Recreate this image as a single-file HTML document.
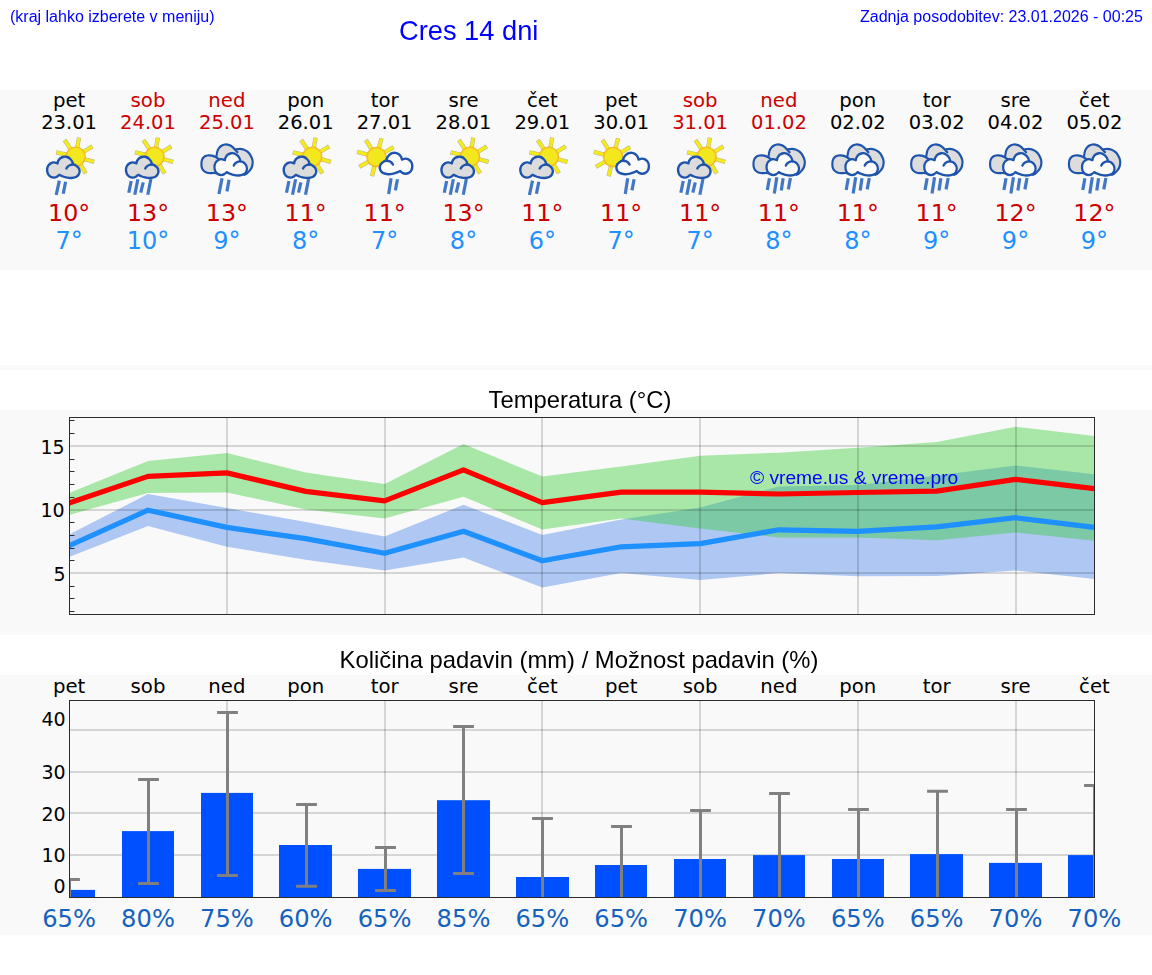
<!DOCTYPE html>
<html lang="sl"><head><meta charset="utf-8"><title>Cres 14 dni</title>
<style>
html,body{margin:0;padding:0;background:#fff}
body{width:1152px;height:975px;position:relative;overflow:hidden;font-family:"Liberation Sans",sans-serif}
.t{position:absolute;white-space:nowrap;line-height:1;margin:0;will-change:transform}
</style></head><body>
<svg width="1152" height="975" viewBox="0 0 1152 975" style="position:absolute;left:0;top:0"><rect x="0" y="90" width="1152" height="180" fill="#f9f9f9"/>
<rect x="0" y="365" width="1152" height="5" fill="#f9f9f9"/>
<rect x="0" y="410" width="1152" height="225" fill="#f9f9f9"/>
<rect x="0" y="675" width="1152" height="260" fill="#f9f9f9"/>
<g font-family="'DejaVu Sans','Liberation Sans',sans-serif" text-anchor="middle" font-size="19.7">
<text x="69.1" y="106.7" fill="#000000">pet</text>
<text x="148.0" y="106.7" fill="#cc0000">sob</text>
<text x="226.9" y="106.7" fill="#cc0000">ned</text>
<text x="305.7" y="106.7" fill="#000000">pon</text>
<text x="384.6" y="106.7" fill="#000000">tor</text>
<text x="463.5" y="106.7" fill="#000000">sre</text>
<text x="542.3" y="106.7" fill="#000000">čet</text>
<text x="621.2" y="106.7" fill="#000000">pet</text>
<text x="700.1" y="106.7" fill="#cc0000">sob</text>
<text x="778.9" y="106.7" fill="#cc0000">ned</text>
<text x="857.8" y="106.7" fill="#000000">pon</text>
<text x="936.7" y="106.7" fill="#000000">tor</text>
<text x="1015.5" y="106.7" fill="#000000">sre</text>
<text x="1094.4" y="106.7" fill="#000000">čet</text>
</g>
<g font-family="'DejaVu Sans','Liberation Sans',sans-serif" text-anchor="middle" font-size="19.5">
<text x="69.1" y="128.9" fill="#000000">23.01</text>
<text x="148.0" y="128.9" fill="#cc0000">24.01</text>
<text x="226.9" y="128.9" fill="#cc0000">25.01</text>
<text x="305.7" y="128.9" fill="#000000">26.01</text>
<text x="384.6" y="128.9" fill="#000000">27.01</text>
<text x="463.5" y="128.9" fill="#000000">28.01</text>
<text x="542.3" y="128.9" fill="#000000">29.01</text>
<text x="621.2" y="128.9" fill="#000000">30.01</text>
<text x="700.1" y="128.9" fill="#cc0000">31.01</text>
<text x="778.9" y="128.9" fill="#cc0000">01.02</text>
<text x="857.8" y="128.9" fill="#000000">02.02</text>
<text x="936.7" y="128.9" fill="#000000">03.02</text>
<text x="1015.5" y="128.9" fill="#000000">04.02</text>
<text x="1094.4" y="128.9" fill="#000000">05.02</text>
</g>
<g font-family="'DejaVu Sans','Liberation Sans',sans-serif" text-anchor="middle" font-size="23.8" fill="#cc0000">
<text x="69.1" y="221">10°</text>
<text x="148.0" y="221">13°</text>
<text x="226.9" y="221">13°</text>
<text x="305.7" y="221">11°</text>
<text x="384.6" y="221">11°</text>
<text x="463.5" y="221">13°</text>
<text x="542.3" y="221">11°</text>
<text x="621.2" y="221">11°</text>
<text x="700.1" y="221">11°</text>
<text x="778.9" y="221">11°</text>
<text x="857.8" y="221">11°</text>
<text x="936.7" y="221">11°</text>
<text x="1015.5" y="221">12°</text>
<text x="1094.4" y="221">12°</text>
</g>
<g font-family="'DejaVu Sans','Liberation Sans',sans-serif" text-anchor="middle" font-size="24" fill="#1e90ff">
<text x="69.1" y="248.9">7°</text>
<text x="148.0" y="248.9">10°</text>
<text x="226.9" y="248.9">9°</text>
<text x="305.7" y="248.9">8°</text>
<text x="384.6" y="248.9">7°</text>
<text x="463.5" y="248.9">8°</text>
<text x="542.3" y="248.9">6°</text>
<text x="621.2" y="248.9">7°</text>
<text x="700.1" y="248.9">7°</text>
<text x="778.9" y="248.9">8°</text>
<text x="857.8" y="248.9">8°</text>
<text x="936.7" y="248.9">9°</text>
<text x="1015.5" y="248.9">9°</text>
<text x="1094.4" y="248.9">9°</text>
</g>
<defs><radialGradient id="sg" cx="50%" cy="50%" r="50%"><stop offset="0" stop-color="#f3e81e"/><stop offset="0.77" stop-color="#f3e71e"/><stop offset="0.9" stop-color="#f5c220"/><stop offset="1" stop-color="#f6a52a"/></radialGradient></defs>
<g stroke="#8f8a45" stroke-opacity="0.6" stroke-width="4.3"><line x1="83.81" y1="158.97" x2="94.27" y2="161.87"/><line x1="80.06" y1="163.95" x2="85.78" y2="173.28"/><line x1="67.32" y1="154.85" x2="56.15" y2="152.35"/><line x1="70.93" y1="149.61" x2="64.55" y2="139.98"/><line x1="77.10" y1="148.33" x2="79.00" y2="137.55"/><line x1="82.87" y1="152.26" x2="92.46" y2="146.38"/></g><g stroke="#f5ea1c" stroke-width="3.3"><line x1="83.81" y1="158.97" x2="93.83" y2="161.75"/><line x1="80.06" y1="163.95" x2="85.55" y2="172.90"/><line x1="67.32" y1="154.85" x2="56.59" y2="152.45"/><line x1="70.93" y1="149.61" x2="64.80" y2="140.36"/><line x1="77.10" y1="148.33" x2="78.92" y2="137.99"/><line x1="82.87" y1="152.26" x2="92.08" y2="146.62"/></g><circle cx="75.62" cy="156.70" r="10.25" fill="url(#sg)"/><g transform="translate(39.32 134.00)" stroke="#1e54ac" stroke-width="2.4" stroke-linejoin="round" stroke-linecap="round"><path d="M33.7 30.4C34.12 30.53 35.28 30.63 36.20 31.20C37.12 31.77 38.52 32.78 39.20 33.80C39.88 34.82 40.28 36.15 40.30 37.30C40.32 38.45 39.90 39.75 39.30 40.70C38.70 41.65 37.92 42.45 36.70 43.00C35.48 43.55 33.67 43.93 32.00 44.00C30.33 44.07 28.25 43.72 26.70 43.40C25.15 43.08 23.82 42.53 22.70 42.10C21.58 41.67 20.45 41.02 20.00 40.80C19.62 41.12 18.58 42.23 17.70 42.70C16.82 43.17 15.77 43.60 14.70 43.60C13.63 43.60 12.30 43.30 11.30 42.70C10.30 42.10 9.28 41.12 8.70 40.00C8.12 38.88 7.80 37.33 7.80 36.00C7.80 34.67 8.12 33.10 8.70 32.00C9.28 30.90 10.30 30.00 11.30 29.40C12.30 28.80 13.55 28.42 14.70 28.40C15.85 28.38 17.62 29.15 18.20 29.30C18.33 28.85 18.48 27.48 19.00 26.60C19.52 25.72 20.35 24.65 21.30 24.00C22.25 23.35 23.58 22.87 24.70 22.70C25.82 22.53 26.95 22.62 28.00 23.00C29.05 23.38 30.17 24.22 31.00 25.00C31.83 25.78 32.55 26.80 33.00 27.70C33.45 28.60 33.58 29.95 33.70 30.40Z" fill="#dcdcdc"/><path d="M27.1 34.4C27.37 34.05 28.05 32.87 28.70 32.30C29.35 31.73 30.17 31.32 31.00 31.00C31.83 30.68 33.25 30.50 33.70 30.40" fill="none"/></g><g stroke="#4277c6" stroke-width="3.2" stroke-linecap="butt"><line x1="59.32" y1="180.70" x2="56.20" y2="195.00"/><line x1="65.62" y1="181.70" x2="63.20" y2="193.70"/></g>
<g stroke="#8f8a45" stroke-opacity="0.6" stroke-width="4.3"><line x1="162.68" y1="158.97" x2="173.13" y2="161.87"/><line x1="158.93" y1="163.95" x2="164.65" y2="173.28"/><line x1="146.19" y1="154.85" x2="135.02" y2="152.35"/><line x1="149.80" y1="149.61" x2="143.42" y2="139.98"/><line x1="155.96" y1="148.33" x2="157.87" y2="137.55"/><line x1="161.74" y1="152.26" x2="171.33" y2="146.38"/></g><g stroke="#f5ea1c" stroke-width="3.3"><line x1="162.68" y1="158.97" x2="172.70" y2="161.75"/><line x1="158.93" y1="163.95" x2="164.42" y2="172.90"/><line x1="146.19" y1="154.85" x2="135.46" y2="152.45"/><line x1="149.80" y1="149.61" x2="143.67" y2="140.36"/><line x1="155.96" y1="148.33" x2="157.79" y2="137.99"/><line x1="161.74" y1="152.26" x2="170.94" y2="146.62"/></g><circle cx="154.49" cy="156.70" r="10.25" fill="url(#sg)"/><g transform="translate(118.19 134.00)" stroke="#1e54ac" stroke-width="2.4" stroke-linejoin="round" stroke-linecap="round"><path d="M33.7 30.4C34.12 30.53 35.28 30.63 36.20 31.20C37.12 31.77 38.52 32.78 39.20 33.80C39.88 34.82 40.28 36.15 40.30 37.30C40.32 38.45 39.90 39.75 39.30 40.70C38.70 41.65 37.92 42.45 36.70 43.00C35.48 43.55 33.67 43.93 32.00 44.00C30.33 44.07 28.25 43.72 26.70 43.40C25.15 43.08 23.82 42.53 22.70 42.10C21.58 41.67 20.45 41.02 20.00 40.80C19.62 41.12 18.58 42.23 17.70 42.70C16.82 43.17 15.77 43.60 14.70 43.60C13.63 43.60 12.30 43.30 11.30 42.70C10.30 42.10 9.28 41.12 8.70 40.00C8.12 38.88 7.80 37.33 7.80 36.00C7.80 34.67 8.12 33.10 8.70 32.00C9.28 30.90 10.30 30.00 11.30 29.40C12.30 28.80 13.55 28.42 14.70 28.40C15.85 28.38 17.62 29.15 18.20 29.30C18.33 28.85 18.48 27.48 19.00 26.60C19.52 25.72 20.35 24.65 21.30 24.00C22.25 23.35 23.58 22.87 24.70 22.70C25.82 22.53 26.95 22.62 28.00 23.00C29.05 23.38 30.17 24.22 31.00 25.00C31.83 25.78 32.55 26.80 33.00 27.70C33.45 28.60 33.58 29.95 33.70 30.40Z" fill="#dcdcdc"/><path d="M27.1 34.4C27.37 34.05 28.05 32.87 28.70 32.30C29.35 31.73 30.17 31.32 31.00 31.00C31.83 30.68 33.25 30.50 33.70 30.40" fill="none"/></g><g stroke="#4277c6" stroke-width="3.2" stroke-linecap="butt"><line x1="131.19" y1="181.00" x2="128.77" y2="192.70"/><line x1="137.89" y1="179.30" x2="134.77" y2="194.70"/><line x1="143.19" y1="182.30" x2="140.77" y2="192.70"/><line x1="150.89" y1="179.00" x2="147.77" y2="194.70"/></g>
<g transform="translate(197.06 134.00)"><path d="M19.33 39.33C18.89 39.28 17.67 39.03 16.67 39.00C15.67 38.97 14.44 39.17 13.33 39.13C12.22 39.10 11.02 39.12 10.00 38.80C8.98 38.48 8.03 37.94 7.20 37.20C6.37 36.46 5.48 35.53 5.00 34.33C4.52 33.13 4.33 31.44 4.33 30.00C4.33 28.56 4.50 26.89 5.00 25.67C5.50 24.44 6.44 23.37 7.33 22.67C8.22 21.97 9.44 21.69 10.33 21.47C11.22 21.24 11.72 21.27 12.67 21.33C13.61 21.40 14.89 21.51 16.00 21.87C17.11 22.22 18.78 23.20 19.33 23.47C19.41 22.83 19.52 21.00 19.80 19.67C20.08 18.33 20.30 16.74 21.00 15.47C21.70 14.19 22.83 12.83 24.00 12.00C25.17 11.17 26.61 10.61 28.00 10.47C29.39 10.32 31.11 10.73 32.33 11.13C33.56 11.53 34.41 12.14 35.33 12.87C36.26 13.59 37.44 15.03 37.87 15.47C38.67 15.36 41.23 14.80 42.67 14.80C44.10 14.80 45.13 14.96 46.47 15.47C47.80 15.98 49.46 16.80 50.67 17.87C51.88 18.93 52.92 20.40 53.73 21.87C54.54 23.33 55.29 25.00 55.53 26.67C55.78 28.33 55.62 30.28 55.20 31.87C54.78 33.46 53.89 34.96 53.00 36.20C52.11 37.44 50.81 38.57 49.87 39.33C48.92 40.10 47.76 40.56 47.33 40.80L40 36L24 36Z" fill="#dcdcdc"/><path d="M19.33 39.33C18.89 39.28 17.67 39.03 16.67 39.00C15.67 38.97 14.44 39.17 13.33 39.13C12.22 39.10 11.02 39.12 10.00 38.80C8.98 38.48 8.03 37.94 7.20 37.20C6.37 36.46 5.48 35.53 5.00 34.33C4.52 33.13 4.33 31.44 4.33 30.00C4.33 28.56 4.50 26.89 5.00 25.67C5.50 24.44 6.44 23.37 7.33 22.67C8.22 21.97 9.44 21.69 10.33 21.47C11.22 21.24 11.72 21.27 12.67 21.33C13.61 21.40 14.89 21.51 16.00 21.87C17.11 22.22 18.78 23.20 19.33 23.47C19.41 22.83 19.52 21.00 19.80 19.67C20.08 18.33 20.30 16.74 21.00 15.47C21.70 14.19 22.83 12.83 24.00 12.00C25.17 11.17 26.61 10.61 28.00 10.47C29.39 10.32 31.11 10.73 32.33 11.13C33.56 11.53 34.41 12.14 35.33 12.87C36.26 13.59 37.44 15.03 37.87 15.47C38.67 15.36 41.23 14.80 42.67 14.80C44.10 14.80 45.13 14.96 46.47 15.47C47.80 15.98 49.46 16.80 50.67 17.87C51.88 18.93 52.92 20.40 53.73 21.87C54.54 23.33 55.29 25.00 55.53 26.67C55.78 28.33 55.62 30.28 55.20 31.87C54.78 33.46 53.89 34.96 53.00 36.20C52.11 37.44 50.81 38.57 49.87 39.33C48.92 40.10 47.76 40.56 47.33 40.80M37.9 15.5L40.4 18.3M19.3 23.5L22.6 25.6" fill="none" stroke="#1e54ac" stroke-width="2.15" stroke-linejoin="round" stroke-linecap="round"/></g><g transform="translate(206.66 129.50) scale(1 1.045)" stroke="#1e54ac" stroke-width="2.25" stroke-linejoin="round" stroke-linecap="round"><path d="M33.7 30.4C34.12 30.53 35.28 30.63 36.20 31.20C37.12 31.77 38.52 32.78 39.20 33.80C39.88 34.82 40.28 36.15 40.30 37.30C40.32 38.45 39.90 39.75 39.30 40.70C38.70 41.65 37.92 42.45 36.70 43.00C35.48 43.55 33.67 43.93 32.00 44.00C30.33 44.07 28.25 43.72 26.70 43.40C25.15 43.08 23.82 42.53 22.70 42.10C21.58 41.67 20.45 41.02 20.00 40.80C19.62 41.12 18.58 42.23 17.70 42.70C16.82 43.17 15.77 43.60 14.70 43.60C13.63 43.60 12.30 43.30 11.30 42.70C10.30 42.10 9.28 41.12 8.70 40.00C8.12 38.88 7.80 37.33 7.80 36.00C7.80 34.67 8.12 33.10 8.70 32.00C9.28 30.90 10.30 30.00 11.30 29.40C12.30 28.80 13.55 28.42 14.70 28.40C15.85 28.38 17.62 29.15 18.20 29.30C18.33 28.85 18.48 27.48 19.00 26.60C19.52 25.72 20.35 24.65 21.30 24.00C22.25 23.35 23.58 22.87 24.70 22.70C25.82 22.53 26.95 22.62 28.00 23.00C29.05 23.38 30.17 24.22 31.00 25.00C31.83 25.78 32.55 26.80 33.00 27.70C33.45 28.60 33.58 29.95 33.70 30.40Z" fill="#fbfbfb"/><path d="M27.1 34.4C27.37 34.05 28.05 32.87 28.70 32.30C29.35 31.73 30.17 31.32 31.00 31.00C31.83 30.68 33.25 30.50 33.70 30.40" fill="none"/></g><g stroke="#4277c6" stroke-width="3.2" stroke-linecap="butt"><line x1="222.06" y1="178.30" x2="218.94" y2="194.00"/><line x1="229.06" y1="179.70" x2="226.94" y2="191.40"/></g>
<g stroke="#8f8a45" stroke-opacity="0.6" stroke-width="4.3"><line x1="320.41" y1="158.97" x2="330.87" y2="161.87"/><line x1="316.66" y1="163.95" x2="322.39" y2="173.28"/><line x1="303.93" y1="154.85" x2="292.75" y2="152.35"/><line x1="307.53" y1="149.61" x2="301.16" y2="139.98"/><line x1="313.70" y1="148.33" x2="315.60" y2="137.55"/><line x1="319.47" y1="152.26" x2="329.06" y2="146.38"/></g><g stroke="#f5ea1c" stroke-width="3.3"><line x1="320.41" y1="158.97" x2="330.44" y2="161.75"/><line x1="316.66" y1="163.95" x2="322.15" y2="172.90"/><line x1="303.93" y1="154.85" x2="293.19" y2="152.45"/><line x1="307.53" y1="149.61" x2="301.41" y2="140.36"/><line x1="313.70" y1="148.33" x2="315.52" y2="137.99"/><line x1="319.47" y1="152.26" x2="328.68" y2="146.62"/></g><circle cx="312.22" cy="156.70" r="10.25" fill="url(#sg)"/><g transform="translate(275.92 134.00)" stroke="#1e54ac" stroke-width="2.4" stroke-linejoin="round" stroke-linecap="round"><path d="M33.7 30.4C34.12 30.53 35.28 30.63 36.20 31.20C37.12 31.77 38.52 32.78 39.20 33.80C39.88 34.82 40.28 36.15 40.30 37.30C40.32 38.45 39.90 39.75 39.30 40.70C38.70 41.65 37.92 42.45 36.70 43.00C35.48 43.55 33.67 43.93 32.00 44.00C30.33 44.07 28.25 43.72 26.70 43.40C25.15 43.08 23.82 42.53 22.70 42.10C21.58 41.67 20.45 41.02 20.00 40.80C19.62 41.12 18.58 42.23 17.70 42.70C16.82 43.17 15.77 43.60 14.70 43.60C13.63 43.60 12.30 43.30 11.30 42.70C10.30 42.10 9.28 41.12 8.70 40.00C8.12 38.88 7.80 37.33 7.80 36.00C7.80 34.67 8.12 33.10 8.70 32.00C9.28 30.90 10.30 30.00 11.30 29.40C12.30 28.80 13.55 28.42 14.70 28.40C15.85 28.38 17.62 29.15 18.20 29.30C18.33 28.85 18.48 27.48 19.00 26.60C19.52 25.72 20.35 24.65 21.30 24.00C22.25 23.35 23.58 22.87 24.70 22.70C25.82 22.53 26.95 22.62 28.00 23.00C29.05 23.38 30.17 24.22 31.00 25.00C31.83 25.78 32.55 26.80 33.00 27.70C33.45 28.60 33.58 29.95 33.70 30.40Z" fill="#dcdcdc"/><path d="M27.1 34.4C27.37 34.05 28.05 32.87 28.70 32.30C29.35 31.73 30.17 31.32 31.00 31.00C31.83 30.68 33.25 30.50 33.70 30.40" fill="none"/></g><g stroke="#4277c6" stroke-width="3.2" stroke-linecap="butt"><line x1="288.92" y1="181.00" x2="286.50" y2="192.70"/><line x1="295.62" y1="179.30" x2="292.50" y2="194.70"/><line x1="300.92" y1="182.30" x2="298.50" y2="192.70"/><line x1="308.62" y1="179.00" x2="305.50" y2="194.70"/></g>
<g stroke="#8f8a45" stroke-opacity="0.6" stroke-width="4.3"><line x1="374.58" y1="165.28" x2="372.05" y2="176.24"/><line x1="369.13" y1="161.25" x2="359.39" y2="166.88"/><line x1="368.28" y1="154.80" x2="357.22" y2="151.84"/><line x1="371.99" y1="149.79" x2="365.87" y2="140.00"/><line x1="378.69" y1="148.79" x2="381.52" y2="138.21"/><line x1="383.85" y1="152.75" x2="393.59" y2="147.12"/></g><g stroke="#f5ea1c" stroke-width="3.3"><line x1="374.58" y1="165.28" x2="372.15" y2="175.81"/><line x1="369.13" y1="161.25" x2="359.78" y2="166.65"/><line x1="368.28" y1="154.80" x2="357.66" y2="151.95"/><line x1="371.99" y1="149.79" x2="366.10" y2="140.38"/><line x1="378.69" y1="148.79" x2="381.41" y2="138.65"/><line x1="383.85" y1="152.75" x2="393.21" y2="147.35"/></g><circle cx="376.49" cy="157.00" r="10.25" fill="url(#sg)"/><g transform="translate(420.09 130.20) scale(-1 1.0)" stroke="#1e54ac" stroke-width="2.4" stroke-linejoin="round" stroke-linecap="round"><path d="M33.7 30.4C34.12 30.53 35.28 30.63 36.20 31.20C37.12 31.77 38.52 32.78 39.20 33.80C39.88 34.82 40.28 36.15 40.30 37.30C40.32 38.45 39.90 39.75 39.30 40.70C38.70 41.65 37.92 42.45 36.70 43.00C35.48 43.55 33.67 43.93 32.00 44.00C30.33 44.07 28.25 43.72 26.70 43.40C25.15 43.08 23.82 42.53 22.70 42.10C21.58 41.67 20.45 41.02 20.00 40.80C19.62 41.12 18.58 42.23 17.70 42.70C16.82 43.17 15.77 43.60 14.70 43.60C13.63 43.60 12.30 43.30 11.30 42.70C10.30 42.10 9.28 41.12 8.70 40.00C8.12 38.88 7.80 37.33 7.80 36.00C7.80 34.67 8.12 33.10 8.70 32.00C9.28 30.90 10.30 30.00 11.30 29.40C12.30 28.80 13.55 28.42 14.70 28.40C15.85 28.38 17.62 29.15 18.20 29.30C18.33 28.85 18.48 27.48 19.00 26.60C19.52 25.72 20.35 24.65 21.30 24.00C22.25 23.35 23.58 22.87 24.70 22.70C25.82 22.53 26.95 22.62 28.00 23.00C29.05 23.38 30.17 24.22 31.00 25.00C31.83 25.78 32.55 26.80 33.00 27.70C33.45 28.60 33.58 29.95 33.70 30.40Z" fill="#fbfbfb"/><path d="M27.1 34.4C27.37 34.05 28.05 32.87 28.70 32.30C29.35 31.73 30.17 31.32 31.00 31.00C31.83 30.68 33.25 30.50 33.70 30.40" fill="none"/></g><g stroke="#4277c6" stroke-width="3.2" stroke-linecap="butt"><line x1="391.09" y1="178.30" x2="388.67" y2="194.00"/><line x1="397.49" y1="179.30" x2="395.37" y2="190.40"/></g>
<g stroke="#8f8a45" stroke-opacity="0.6" stroke-width="4.3"><line x1="478.15" y1="158.97" x2="488.60" y2="161.87"/><line x1="474.40" y1="163.95" x2="480.12" y2="173.28"/><line x1="461.66" y1="154.85" x2="450.49" y2="152.35"/><line x1="465.27" y1="149.61" x2="458.89" y2="139.98"/><line x1="471.43" y1="148.33" x2="473.34" y2="137.55"/><line x1="477.21" y1="152.26" x2="486.80" y2="146.38"/></g><g stroke="#f5ea1c" stroke-width="3.3"><line x1="478.15" y1="158.97" x2="488.17" y2="161.75"/><line x1="474.40" y1="163.95" x2="479.89" y2="172.90"/><line x1="461.66" y1="154.85" x2="450.93" y2="152.45"/><line x1="465.27" y1="149.61" x2="459.14" y2="140.36"/><line x1="471.43" y1="148.33" x2="473.26" y2="137.99"/><line x1="477.21" y1="152.26" x2="486.41" y2="146.62"/></g><circle cx="469.96" cy="156.70" r="10.25" fill="url(#sg)"/><g transform="translate(433.66 134.00)" stroke="#1e54ac" stroke-width="2.4" stroke-linejoin="round" stroke-linecap="round"><path d="M33.7 30.4C34.12 30.53 35.28 30.63 36.20 31.20C37.12 31.77 38.52 32.78 39.20 33.80C39.88 34.82 40.28 36.15 40.30 37.30C40.32 38.45 39.90 39.75 39.30 40.70C38.70 41.65 37.92 42.45 36.70 43.00C35.48 43.55 33.67 43.93 32.00 44.00C30.33 44.07 28.25 43.72 26.70 43.40C25.15 43.08 23.82 42.53 22.70 42.10C21.58 41.67 20.45 41.02 20.00 40.80C19.62 41.12 18.58 42.23 17.70 42.70C16.82 43.17 15.77 43.60 14.70 43.60C13.63 43.60 12.30 43.30 11.30 42.70C10.30 42.10 9.28 41.12 8.70 40.00C8.12 38.88 7.80 37.33 7.80 36.00C7.80 34.67 8.12 33.10 8.70 32.00C9.28 30.90 10.30 30.00 11.30 29.40C12.30 28.80 13.55 28.42 14.70 28.40C15.85 28.38 17.62 29.15 18.20 29.30C18.33 28.85 18.48 27.48 19.00 26.60C19.52 25.72 20.35 24.65 21.30 24.00C22.25 23.35 23.58 22.87 24.70 22.70C25.82 22.53 26.95 22.62 28.00 23.00C29.05 23.38 30.17 24.22 31.00 25.00C31.83 25.78 32.55 26.80 33.00 27.70C33.45 28.60 33.58 29.95 33.70 30.40Z" fill="#dcdcdc"/><path d="M27.1 34.4C27.37 34.05 28.05 32.87 28.70 32.30C29.35 31.73 30.17 31.32 31.00 31.00C31.83 30.68 33.25 30.50 33.70 30.40" fill="none"/></g><g stroke="#4277c6" stroke-width="3.2" stroke-linecap="butt"><line x1="446.66" y1="181.00" x2="444.24" y2="192.70"/><line x1="453.36" y1="179.30" x2="450.24" y2="194.70"/><line x1="458.66" y1="182.30" x2="456.24" y2="192.70"/><line x1="466.36" y1="179.00" x2="463.24" y2="194.70"/></g>
<g stroke="#8f8a45" stroke-opacity="0.6" stroke-width="4.3"><line x1="557.02" y1="158.97" x2="567.47" y2="161.87"/><line x1="553.27" y1="163.95" x2="558.99" y2="173.28"/><line x1="540.53" y1="154.85" x2="529.36" y2="152.35"/><line x1="544.13" y1="149.61" x2="537.76" y2="139.98"/><line x1="550.30" y1="148.33" x2="552.20" y2="137.55"/><line x1="556.07" y1="152.26" x2="565.67" y2="146.38"/></g><g stroke="#f5ea1c" stroke-width="3.3"><line x1="557.02" y1="158.97" x2="567.04" y2="161.75"/><line x1="553.27" y1="163.95" x2="558.75" y2="172.90"/><line x1="540.53" y1="154.85" x2="529.80" y2="152.45"/><line x1="544.13" y1="149.61" x2="538.01" y2="140.36"/><line x1="550.30" y1="148.33" x2="552.13" y2="137.99"/><line x1="556.07" y1="152.26" x2="565.28" y2="146.62"/></g><circle cx="548.83" cy="156.70" r="10.25" fill="url(#sg)"/><g transform="translate(512.53 134.00)" stroke="#1e54ac" stroke-width="2.4" stroke-linejoin="round" stroke-linecap="round"><path d="M33.7 30.4C34.12 30.53 35.28 30.63 36.20 31.20C37.12 31.77 38.52 32.78 39.20 33.80C39.88 34.82 40.28 36.15 40.30 37.30C40.32 38.45 39.90 39.75 39.30 40.70C38.70 41.65 37.92 42.45 36.70 43.00C35.48 43.55 33.67 43.93 32.00 44.00C30.33 44.07 28.25 43.72 26.70 43.40C25.15 43.08 23.82 42.53 22.70 42.10C21.58 41.67 20.45 41.02 20.00 40.80C19.62 41.12 18.58 42.23 17.70 42.70C16.82 43.17 15.77 43.60 14.70 43.60C13.63 43.60 12.30 43.30 11.30 42.70C10.30 42.10 9.28 41.12 8.70 40.00C8.12 38.88 7.80 37.33 7.80 36.00C7.80 34.67 8.12 33.10 8.70 32.00C9.28 30.90 10.30 30.00 11.30 29.40C12.30 28.80 13.55 28.42 14.70 28.40C15.85 28.38 17.62 29.15 18.20 29.30C18.33 28.85 18.48 27.48 19.00 26.60C19.52 25.72 20.35 24.65 21.30 24.00C22.25 23.35 23.58 22.87 24.70 22.70C25.82 22.53 26.95 22.62 28.00 23.00C29.05 23.38 30.17 24.22 31.00 25.00C31.83 25.78 32.55 26.80 33.00 27.70C33.45 28.60 33.58 29.95 33.70 30.40Z" fill="#dcdcdc"/><path d="M27.1 34.4C27.37 34.05 28.05 32.87 28.70 32.30C29.35 31.73 30.17 31.32 31.00 31.00C31.83 30.68 33.25 30.50 33.70 30.40" fill="none"/></g><g stroke="#4277c6" stroke-width="3.2" stroke-linecap="butt"><line x1="532.53" y1="180.70" x2="529.41" y2="195.00"/><line x1="538.83" y1="181.70" x2="536.41" y2="193.70"/></g>
<g stroke="#8f8a45" stroke-opacity="0.6" stroke-width="4.3"><line x1="611.18" y1="165.28" x2="608.65" y2="176.24"/><line x1="605.73" y1="161.25" x2="595.99" y2="166.88"/><line x1="604.88" y1="154.80" x2="593.82" y2="151.84"/><line x1="608.59" y1="149.79" x2="602.47" y2="140.00"/><line x1="615.29" y1="148.79" x2="618.13" y2="138.21"/><line x1="620.46" y1="152.75" x2="630.20" y2="147.12"/></g><g stroke="#f5ea1c" stroke-width="3.3"><line x1="611.18" y1="165.28" x2="608.75" y2="175.81"/><line x1="605.73" y1="161.25" x2="596.38" y2="166.65"/><line x1="604.88" y1="154.80" x2="594.26" y2="151.95"/><line x1="608.59" y1="149.79" x2="602.71" y2="140.38"/><line x1="615.29" y1="148.79" x2="618.01" y2="138.65"/><line x1="620.46" y1="152.75" x2="629.81" y2="147.35"/></g><circle cx="613.09" cy="157.00" r="10.25" fill="url(#sg)"/><g transform="translate(656.69 130.20) scale(-1 1.0)" stroke="#1e54ac" stroke-width="2.4" stroke-linejoin="round" stroke-linecap="round"><path d="M33.7 30.4C34.12 30.53 35.28 30.63 36.20 31.20C37.12 31.77 38.52 32.78 39.20 33.80C39.88 34.82 40.28 36.15 40.30 37.30C40.32 38.45 39.90 39.75 39.30 40.70C38.70 41.65 37.92 42.45 36.70 43.00C35.48 43.55 33.67 43.93 32.00 44.00C30.33 44.07 28.25 43.72 26.70 43.40C25.15 43.08 23.82 42.53 22.70 42.10C21.58 41.67 20.45 41.02 20.00 40.80C19.62 41.12 18.58 42.23 17.70 42.70C16.82 43.17 15.77 43.60 14.70 43.60C13.63 43.60 12.30 43.30 11.30 42.70C10.30 42.10 9.28 41.12 8.70 40.00C8.12 38.88 7.80 37.33 7.80 36.00C7.80 34.67 8.12 33.10 8.70 32.00C9.28 30.90 10.30 30.00 11.30 29.40C12.30 28.80 13.55 28.42 14.70 28.40C15.85 28.38 17.62 29.15 18.20 29.30C18.33 28.85 18.48 27.48 19.00 26.60C19.52 25.72 20.35 24.65 21.30 24.00C22.25 23.35 23.58 22.87 24.70 22.70C25.82 22.53 26.95 22.62 28.00 23.00C29.05 23.38 30.17 24.22 31.00 25.00C31.83 25.78 32.55 26.80 33.00 27.70C33.45 28.60 33.58 29.95 33.70 30.40Z" fill="#fbfbfb"/><path d="M27.1 34.4C27.37 34.05 28.05 32.87 28.70 32.30C29.35 31.73 30.17 31.32 31.00 31.00C31.83 30.68 33.25 30.50 33.70 30.40" fill="none"/></g><g stroke="#4277c6" stroke-width="3.2" stroke-linecap="butt"><line x1="627.69" y1="178.30" x2="625.27" y2="194.00"/><line x1="634.09" y1="179.30" x2="631.97" y2="190.40"/></g>
<g stroke="#8f8a45" stroke-opacity="0.6" stroke-width="4.3"><line x1="714.75" y1="158.97" x2="725.21" y2="161.87"/><line x1="711.00" y1="163.95" x2="716.72" y2="173.28"/><line x1="698.27" y1="154.85" x2="687.09" y2="152.35"/><line x1="701.87" y1="149.61" x2="695.50" y2="139.98"/><line x1="708.04" y1="148.33" x2="709.94" y2="137.55"/><line x1="713.81" y1="152.26" x2="723.40" y2="146.38"/></g><g stroke="#f5ea1c" stroke-width="3.3"><line x1="714.75" y1="158.97" x2="724.77" y2="161.75"/><line x1="711.00" y1="163.95" x2="716.49" y2="172.90"/><line x1="698.27" y1="154.85" x2="687.53" y2="152.45"/><line x1="701.87" y1="149.61" x2="695.74" y2="140.36"/><line x1="708.04" y1="148.33" x2="709.86" y2="137.99"/><line x1="713.81" y1="152.26" x2="723.02" y2="146.62"/></g><circle cx="706.56" cy="156.70" r="10.25" fill="url(#sg)"/><g transform="translate(670.26 134.00)" stroke="#1e54ac" stroke-width="2.4" stroke-linejoin="round" stroke-linecap="round"><path d="M33.7 30.4C34.12 30.53 35.28 30.63 36.20 31.20C37.12 31.77 38.52 32.78 39.20 33.80C39.88 34.82 40.28 36.15 40.30 37.30C40.32 38.45 39.90 39.75 39.30 40.70C38.70 41.65 37.92 42.45 36.70 43.00C35.48 43.55 33.67 43.93 32.00 44.00C30.33 44.07 28.25 43.72 26.70 43.40C25.15 43.08 23.82 42.53 22.70 42.10C21.58 41.67 20.45 41.02 20.00 40.80C19.62 41.12 18.58 42.23 17.70 42.70C16.82 43.17 15.77 43.60 14.70 43.60C13.63 43.60 12.30 43.30 11.30 42.70C10.30 42.10 9.28 41.12 8.70 40.00C8.12 38.88 7.80 37.33 7.80 36.00C7.80 34.67 8.12 33.10 8.70 32.00C9.28 30.90 10.30 30.00 11.30 29.40C12.30 28.80 13.55 28.42 14.70 28.40C15.85 28.38 17.62 29.15 18.20 29.30C18.33 28.85 18.48 27.48 19.00 26.60C19.52 25.72 20.35 24.65 21.30 24.00C22.25 23.35 23.58 22.87 24.70 22.70C25.82 22.53 26.95 22.62 28.00 23.00C29.05 23.38 30.17 24.22 31.00 25.00C31.83 25.78 32.55 26.80 33.00 27.70C33.45 28.60 33.58 29.95 33.70 30.40Z" fill="#dcdcdc"/><path d="M27.1 34.4C27.37 34.05 28.05 32.87 28.70 32.30C29.35 31.73 30.17 31.32 31.00 31.00C31.83 30.68 33.25 30.50 33.70 30.40" fill="none"/></g><g stroke="#4277c6" stroke-width="3.2" stroke-linecap="butt"><line x1="683.26" y1="181.00" x2="680.84" y2="192.70"/><line x1="689.96" y1="179.30" x2="686.84" y2="194.70"/><line x1="695.26" y1="182.30" x2="692.84" y2="192.70"/><line x1="702.96" y1="179.00" x2="699.84" y2="194.70"/></g>
<g transform="translate(749.13 134.00)"><path d="M19.33 39.33C18.89 39.28 17.67 39.03 16.67 39.00C15.67 38.97 14.44 39.17 13.33 39.13C12.22 39.10 11.02 39.12 10.00 38.80C8.98 38.48 8.03 37.94 7.20 37.20C6.37 36.46 5.48 35.53 5.00 34.33C4.52 33.13 4.33 31.44 4.33 30.00C4.33 28.56 4.50 26.89 5.00 25.67C5.50 24.44 6.44 23.37 7.33 22.67C8.22 21.97 9.44 21.69 10.33 21.47C11.22 21.24 11.72 21.27 12.67 21.33C13.61 21.40 14.89 21.51 16.00 21.87C17.11 22.22 18.78 23.20 19.33 23.47C19.41 22.83 19.52 21.00 19.80 19.67C20.08 18.33 20.30 16.74 21.00 15.47C21.70 14.19 22.83 12.83 24.00 12.00C25.17 11.17 26.61 10.61 28.00 10.47C29.39 10.32 31.11 10.73 32.33 11.13C33.56 11.53 34.41 12.14 35.33 12.87C36.26 13.59 37.44 15.03 37.87 15.47C38.67 15.36 41.23 14.80 42.67 14.80C44.10 14.80 45.13 14.96 46.47 15.47C47.80 15.98 49.46 16.80 50.67 17.87C51.88 18.93 52.92 20.40 53.73 21.87C54.54 23.33 55.29 25.00 55.53 26.67C55.78 28.33 55.62 30.28 55.20 31.87C54.78 33.46 53.89 34.96 53.00 36.20C52.11 37.44 50.81 38.57 49.87 39.33C48.92 40.10 47.76 40.56 47.33 40.80L40 36L24 36Z" fill="#dcdcdc"/><path d="M19.33 39.33C18.89 39.28 17.67 39.03 16.67 39.00C15.67 38.97 14.44 39.17 13.33 39.13C12.22 39.10 11.02 39.12 10.00 38.80C8.98 38.48 8.03 37.94 7.20 37.20C6.37 36.46 5.48 35.53 5.00 34.33C4.52 33.13 4.33 31.44 4.33 30.00C4.33 28.56 4.50 26.89 5.00 25.67C5.50 24.44 6.44 23.37 7.33 22.67C8.22 21.97 9.44 21.69 10.33 21.47C11.22 21.24 11.72 21.27 12.67 21.33C13.61 21.40 14.89 21.51 16.00 21.87C17.11 22.22 18.78 23.20 19.33 23.47C19.41 22.83 19.52 21.00 19.80 19.67C20.08 18.33 20.30 16.74 21.00 15.47C21.70 14.19 22.83 12.83 24.00 12.00C25.17 11.17 26.61 10.61 28.00 10.47C29.39 10.32 31.11 10.73 32.33 11.13C33.56 11.53 34.41 12.14 35.33 12.87C36.26 13.59 37.44 15.03 37.87 15.47C38.67 15.36 41.23 14.80 42.67 14.80C44.10 14.80 45.13 14.96 46.47 15.47C47.80 15.98 49.46 16.80 50.67 17.87C51.88 18.93 52.92 20.40 53.73 21.87C54.54 23.33 55.29 25.00 55.53 26.67C55.78 28.33 55.62 30.28 55.20 31.87C54.78 33.46 53.89 34.96 53.00 36.20C52.11 37.44 50.81 38.57 49.87 39.33C48.92 40.10 47.76 40.56 47.33 40.80M37.9 15.5L40.4 18.3M19.3 23.5L22.6 25.6" fill="none" stroke="#1e54ac" stroke-width="2.15" stroke-linejoin="round" stroke-linecap="round"/></g><g transform="translate(758.73 129.50) scale(1 1.045)" stroke="#1e54ac" stroke-width="2.25" stroke-linejoin="round" stroke-linecap="round"><path d="M33.7 30.4C34.12 30.53 35.28 30.63 36.20 31.20C37.12 31.77 38.52 32.78 39.20 33.80C39.88 34.82 40.28 36.15 40.30 37.30C40.32 38.45 39.90 39.75 39.30 40.70C38.70 41.65 37.92 42.45 36.70 43.00C35.48 43.55 33.67 43.93 32.00 44.00C30.33 44.07 28.25 43.72 26.70 43.40C25.15 43.08 23.82 42.53 22.70 42.10C21.58 41.67 20.45 41.02 20.00 40.80C19.62 41.12 18.58 42.23 17.70 42.70C16.82 43.17 15.77 43.60 14.70 43.60C13.63 43.60 12.30 43.30 11.30 42.70C10.30 42.10 9.28 41.12 8.70 40.00C8.12 38.88 7.80 37.33 7.80 36.00C7.80 34.67 8.12 33.10 8.70 32.00C9.28 30.90 10.30 30.00 11.30 29.40C12.30 28.80 13.55 28.42 14.70 28.40C15.85 28.38 17.62 29.15 18.20 29.30C18.33 28.85 18.48 27.48 19.00 26.60C19.52 25.72 20.35 24.65 21.30 24.00C22.25 23.35 23.58 22.87 24.70 22.70C25.82 22.53 26.95 22.62 28.00 23.00C29.05 23.38 30.17 24.22 31.00 25.00C31.83 25.78 32.55 26.80 33.00 27.70C33.45 28.60 33.58 29.95 33.70 30.40Z" fill="#fbfbfb"/><path d="M27.1 34.4C27.37 34.05 28.05 32.87 28.70 32.30C29.35 31.73 30.17 31.32 31.00 31.00C31.83 30.68 33.25 30.50 33.70 30.40" fill="none"/></g><g stroke="#4277c6" stroke-width="3.2" stroke-linecap="butt"><line x1="769.43" y1="178.30" x2="767.31" y2="190.00"/><line x1="776.83" y1="177.30" x2="774.31" y2="193.40"/><line x1="783.13" y1="178.30" x2="781.31" y2="190.40"/><line x1="790.43" y1="178.00" x2="788.31" y2="189.40"/></g>
<g transform="translate(828.00 134.00)"><path d="M19.33 39.33C18.89 39.28 17.67 39.03 16.67 39.00C15.67 38.97 14.44 39.17 13.33 39.13C12.22 39.10 11.02 39.12 10.00 38.80C8.98 38.48 8.03 37.94 7.20 37.20C6.37 36.46 5.48 35.53 5.00 34.33C4.52 33.13 4.33 31.44 4.33 30.00C4.33 28.56 4.50 26.89 5.00 25.67C5.50 24.44 6.44 23.37 7.33 22.67C8.22 21.97 9.44 21.69 10.33 21.47C11.22 21.24 11.72 21.27 12.67 21.33C13.61 21.40 14.89 21.51 16.00 21.87C17.11 22.22 18.78 23.20 19.33 23.47C19.41 22.83 19.52 21.00 19.80 19.67C20.08 18.33 20.30 16.74 21.00 15.47C21.70 14.19 22.83 12.83 24.00 12.00C25.17 11.17 26.61 10.61 28.00 10.47C29.39 10.32 31.11 10.73 32.33 11.13C33.56 11.53 34.41 12.14 35.33 12.87C36.26 13.59 37.44 15.03 37.87 15.47C38.67 15.36 41.23 14.80 42.67 14.80C44.10 14.80 45.13 14.96 46.47 15.47C47.80 15.98 49.46 16.80 50.67 17.87C51.88 18.93 52.92 20.40 53.73 21.87C54.54 23.33 55.29 25.00 55.53 26.67C55.78 28.33 55.62 30.28 55.20 31.87C54.78 33.46 53.89 34.96 53.00 36.20C52.11 37.44 50.81 38.57 49.87 39.33C48.92 40.10 47.76 40.56 47.33 40.80L40 36L24 36Z" fill="#dcdcdc"/><path d="M19.33 39.33C18.89 39.28 17.67 39.03 16.67 39.00C15.67 38.97 14.44 39.17 13.33 39.13C12.22 39.10 11.02 39.12 10.00 38.80C8.98 38.48 8.03 37.94 7.20 37.20C6.37 36.46 5.48 35.53 5.00 34.33C4.52 33.13 4.33 31.44 4.33 30.00C4.33 28.56 4.50 26.89 5.00 25.67C5.50 24.44 6.44 23.37 7.33 22.67C8.22 21.97 9.44 21.69 10.33 21.47C11.22 21.24 11.72 21.27 12.67 21.33C13.61 21.40 14.89 21.51 16.00 21.87C17.11 22.22 18.78 23.20 19.33 23.47C19.41 22.83 19.52 21.00 19.80 19.67C20.08 18.33 20.30 16.74 21.00 15.47C21.70 14.19 22.83 12.83 24.00 12.00C25.17 11.17 26.61 10.61 28.00 10.47C29.39 10.32 31.11 10.73 32.33 11.13C33.56 11.53 34.41 12.14 35.33 12.87C36.26 13.59 37.44 15.03 37.87 15.47C38.67 15.36 41.23 14.80 42.67 14.80C44.10 14.80 45.13 14.96 46.47 15.47C47.80 15.98 49.46 16.80 50.67 17.87C51.88 18.93 52.92 20.40 53.73 21.87C54.54 23.33 55.29 25.00 55.53 26.67C55.78 28.33 55.62 30.28 55.20 31.87C54.78 33.46 53.89 34.96 53.00 36.20C52.11 37.44 50.81 38.57 49.87 39.33C48.92 40.10 47.76 40.56 47.33 40.80M37.9 15.5L40.4 18.3M19.3 23.5L22.6 25.6" fill="none" stroke="#1e54ac" stroke-width="2.15" stroke-linejoin="round" stroke-linecap="round"/></g><g transform="translate(837.60 129.50) scale(1 1.045)" stroke="#1e54ac" stroke-width="2.25" stroke-linejoin="round" stroke-linecap="round"><path d="M33.7 30.4C34.12 30.53 35.28 30.63 36.20 31.20C37.12 31.77 38.52 32.78 39.20 33.80C39.88 34.82 40.28 36.15 40.30 37.30C40.32 38.45 39.90 39.75 39.30 40.70C38.70 41.65 37.92 42.45 36.70 43.00C35.48 43.55 33.67 43.93 32.00 44.00C30.33 44.07 28.25 43.72 26.70 43.40C25.15 43.08 23.82 42.53 22.70 42.10C21.58 41.67 20.45 41.02 20.00 40.80C19.62 41.12 18.58 42.23 17.70 42.70C16.82 43.17 15.77 43.60 14.70 43.60C13.63 43.60 12.30 43.30 11.30 42.70C10.30 42.10 9.28 41.12 8.70 40.00C8.12 38.88 7.80 37.33 7.80 36.00C7.80 34.67 8.12 33.10 8.70 32.00C9.28 30.90 10.30 30.00 11.30 29.40C12.30 28.80 13.55 28.42 14.70 28.40C15.85 28.38 17.62 29.15 18.20 29.30C18.33 28.85 18.48 27.48 19.00 26.60C19.52 25.72 20.35 24.65 21.30 24.00C22.25 23.35 23.58 22.87 24.70 22.70C25.82 22.53 26.95 22.62 28.00 23.00C29.05 23.38 30.17 24.22 31.00 25.00C31.83 25.78 32.55 26.80 33.00 27.70C33.45 28.60 33.58 29.95 33.70 30.40Z" fill="#fbfbfb"/><path d="M27.1 34.4C27.37 34.05 28.05 32.87 28.70 32.30C29.35 31.73 30.17 31.32 31.00 31.00C31.83 30.68 33.25 30.50 33.70 30.40" fill="none"/></g><g stroke="#4277c6" stroke-width="3.2" stroke-linecap="butt"><line x1="848.30" y1="178.30" x2="846.18" y2="190.00"/><line x1="855.70" y1="177.30" x2="853.18" y2="193.40"/><line x1="862.00" y1="178.30" x2="860.18" y2="190.40"/><line x1="869.30" y1="178.00" x2="867.18" y2="189.40"/></g>
<g transform="translate(906.86 134.00)"><path d="M19.33 39.33C18.89 39.28 17.67 39.03 16.67 39.00C15.67 38.97 14.44 39.17 13.33 39.13C12.22 39.10 11.02 39.12 10.00 38.80C8.98 38.48 8.03 37.94 7.20 37.20C6.37 36.46 5.48 35.53 5.00 34.33C4.52 33.13 4.33 31.44 4.33 30.00C4.33 28.56 4.50 26.89 5.00 25.67C5.50 24.44 6.44 23.37 7.33 22.67C8.22 21.97 9.44 21.69 10.33 21.47C11.22 21.24 11.72 21.27 12.67 21.33C13.61 21.40 14.89 21.51 16.00 21.87C17.11 22.22 18.78 23.20 19.33 23.47C19.41 22.83 19.52 21.00 19.80 19.67C20.08 18.33 20.30 16.74 21.00 15.47C21.70 14.19 22.83 12.83 24.00 12.00C25.17 11.17 26.61 10.61 28.00 10.47C29.39 10.32 31.11 10.73 32.33 11.13C33.56 11.53 34.41 12.14 35.33 12.87C36.26 13.59 37.44 15.03 37.87 15.47C38.67 15.36 41.23 14.80 42.67 14.80C44.10 14.80 45.13 14.96 46.47 15.47C47.80 15.98 49.46 16.80 50.67 17.87C51.88 18.93 52.92 20.40 53.73 21.87C54.54 23.33 55.29 25.00 55.53 26.67C55.78 28.33 55.62 30.28 55.20 31.87C54.78 33.46 53.89 34.96 53.00 36.20C52.11 37.44 50.81 38.57 49.87 39.33C48.92 40.10 47.76 40.56 47.33 40.80L40 36L24 36Z" fill="#dcdcdc"/><path d="M19.33 39.33C18.89 39.28 17.67 39.03 16.67 39.00C15.67 38.97 14.44 39.17 13.33 39.13C12.22 39.10 11.02 39.12 10.00 38.80C8.98 38.48 8.03 37.94 7.20 37.20C6.37 36.46 5.48 35.53 5.00 34.33C4.52 33.13 4.33 31.44 4.33 30.00C4.33 28.56 4.50 26.89 5.00 25.67C5.50 24.44 6.44 23.37 7.33 22.67C8.22 21.97 9.44 21.69 10.33 21.47C11.22 21.24 11.72 21.27 12.67 21.33C13.61 21.40 14.89 21.51 16.00 21.87C17.11 22.22 18.78 23.20 19.33 23.47C19.41 22.83 19.52 21.00 19.80 19.67C20.08 18.33 20.30 16.74 21.00 15.47C21.70 14.19 22.83 12.83 24.00 12.00C25.17 11.17 26.61 10.61 28.00 10.47C29.39 10.32 31.11 10.73 32.33 11.13C33.56 11.53 34.41 12.14 35.33 12.87C36.26 13.59 37.44 15.03 37.87 15.47C38.67 15.36 41.23 14.80 42.67 14.80C44.10 14.80 45.13 14.96 46.47 15.47C47.80 15.98 49.46 16.80 50.67 17.87C51.88 18.93 52.92 20.40 53.73 21.87C54.54 23.33 55.29 25.00 55.53 26.67C55.78 28.33 55.62 30.28 55.20 31.87C54.78 33.46 53.89 34.96 53.00 36.20C52.11 37.44 50.81 38.57 49.87 39.33C48.92 40.10 47.76 40.56 47.33 40.80M37.9 15.5L40.4 18.3M19.3 23.5L22.6 25.6" fill="none" stroke="#1e54ac" stroke-width="2.15" stroke-linejoin="round" stroke-linecap="round"/></g><g transform="translate(916.46 129.50) scale(1 1.045)" stroke="#1e54ac" stroke-width="2.25" stroke-linejoin="round" stroke-linecap="round"><path d="M33.7 30.4C34.12 30.53 35.28 30.63 36.20 31.20C37.12 31.77 38.52 32.78 39.20 33.80C39.88 34.82 40.28 36.15 40.30 37.30C40.32 38.45 39.90 39.75 39.30 40.70C38.70 41.65 37.92 42.45 36.70 43.00C35.48 43.55 33.67 43.93 32.00 44.00C30.33 44.07 28.25 43.72 26.70 43.40C25.15 43.08 23.82 42.53 22.70 42.10C21.58 41.67 20.45 41.02 20.00 40.80C19.62 41.12 18.58 42.23 17.70 42.70C16.82 43.17 15.77 43.60 14.70 43.60C13.63 43.60 12.30 43.30 11.30 42.70C10.30 42.10 9.28 41.12 8.70 40.00C8.12 38.88 7.80 37.33 7.80 36.00C7.80 34.67 8.12 33.10 8.70 32.00C9.28 30.90 10.30 30.00 11.30 29.40C12.30 28.80 13.55 28.42 14.70 28.40C15.85 28.38 17.62 29.15 18.20 29.30C18.33 28.85 18.48 27.48 19.00 26.60C19.52 25.72 20.35 24.65 21.30 24.00C22.25 23.35 23.58 22.87 24.70 22.70C25.82 22.53 26.95 22.62 28.00 23.00C29.05 23.38 30.17 24.22 31.00 25.00C31.83 25.78 32.55 26.80 33.00 27.70C33.45 28.60 33.58 29.95 33.70 30.40Z" fill="#fbfbfb"/><path d="M27.1 34.4C27.37 34.05 28.05 32.87 28.70 32.30C29.35 31.73 30.17 31.32 31.00 31.00C31.83 30.68 33.25 30.50 33.70 30.40" fill="none"/></g><g stroke="#4277c6" stroke-width="3.2" stroke-linecap="butt"><line x1="927.16" y1="178.30" x2="925.04" y2="190.00"/><line x1="934.56" y1="177.30" x2="932.04" y2="193.40"/><line x1="940.86" y1="178.30" x2="939.04" y2="190.40"/><line x1="948.16" y1="178.00" x2="946.04" y2="189.40"/></g>
<g transform="translate(985.73 134.00)"><path d="M19.33 39.33C18.89 39.28 17.67 39.03 16.67 39.00C15.67 38.97 14.44 39.17 13.33 39.13C12.22 39.10 11.02 39.12 10.00 38.80C8.98 38.48 8.03 37.94 7.20 37.20C6.37 36.46 5.48 35.53 5.00 34.33C4.52 33.13 4.33 31.44 4.33 30.00C4.33 28.56 4.50 26.89 5.00 25.67C5.50 24.44 6.44 23.37 7.33 22.67C8.22 21.97 9.44 21.69 10.33 21.47C11.22 21.24 11.72 21.27 12.67 21.33C13.61 21.40 14.89 21.51 16.00 21.87C17.11 22.22 18.78 23.20 19.33 23.47C19.41 22.83 19.52 21.00 19.80 19.67C20.08 18.33 20.30 16.74 21.00 15.47C21.70 14.19 22.83 12.83 24.00 12.00C25.17 11.17 26.61 10.61 28.00 10.47C29.39 10.32 31.11 10.73 32.33 11.13C33.56 11.53 34.41 12.14 35.33 12.87C36.26 13.59 37.44 15.03 37.87 15.47C38.67 15.36 41.23 14.80 42.67 14.80C44.10 14.80 45.13 14.96 46.47 15.47C47.80 15.98 49.46 16.80 50.67 17.87C51.88 18.93 52.92 20.40 53.73 21.87C54.54 23.33 55.29 25.00 55.53 26.67C55.78 28.33 55.62 30.28 55.20 31.87C54.78 33.46 53.89 34.96 53.00 36.20C52.11 37.44 50.81 38.57 49.87 39.33C48.92 40.10 47.76 40.56 47.33 40.80L40 36L24 36Z" fill="#dcdcdc"/><path d="M19.33 39.33C18.89 39.28 17.67 39.03 16.67 39.00C15.67 38.97 14.44 39.17 13.33 39.13C12.22 39.10 11.02 39.12 10.00 38.80C8.98 38.48 8.03 37.94 7.20 37.20C6.37 36.46 5.48 35.53 5.00 34.33C4.52 33.13 4.33 31.44 4.33 30.00C4.33 28.56 4.50 26.89 5.00 25.67C5.50 24.44 6.44 23.37 7.33 22.67C8.22 21.97 9.44 21.69 10.33 21.47C11.22 21.24 11.72 21.27 12.67 21.33C13.61 21.40 14.89 21.51 16.00 21.87C17.11 22.22 18.78 23.20 19.33 23.47C19.41 22.83 19.52 21.00 19.80 19.67C20.08 18.33 20.30 16.74 21.00 15.47C21.70 14.19 22.83 12.83 24.00 12.00C25.17 11.17 26.61 10.61 28.00 10.47C29.39 10.32 31.11 10.73 32.33 11.13C33.56 11.53 34.41 12.14 35.33 12.87C36.26 13.59 37.44 15.03 37.87 15.47C38.67 15.36 41.23 14.80 42.67 14.80C44.10 14.80 45.13 14.96 46.47 15.47C47.80 15.98 49.46 16.80 50.67 17.87C51.88 18.93 52.92 20.40 53.73 21.87C54.54 23.33 55.29 25.00 55.53 26.67C55.78 28.33 55.62 30.28 55.20 31.87C54.78 33.46 53.89 34.96 53.00 36.20C52.11 37.44 50.81 38.57 49.87 39.33C48.92 40.10 47.76 40.56 47.33 40.80M37.9 15.5L40.4 18.3M19.3 23.5L22.6 25.6" fill="none" stroke="#1e54ac" stroke-width="2.15" stroke-linejoin="round" stroke-linecap="round"/></g><g transform="translate(995.33 129.50) scale(1 1.045)" stroke="#1e54ac" stroke-width="2.25" stroke-linejoin="round" stroke-linecap="round"><path d="M33.7 30.4C34.12 30.53 35.28 30.63 36.20 31.20C37.12 31.77 38.52 32.78 39.20 33.80C39.88 34.82 40.28 36.15 40.30 37.30C40.32 38.45 39.90 39.75 39.30 40.70C38.70 41.65 37.92 42.45 36.70 43.00C35.48 43.55 33.67 43.93 32.00 44.00C30.33 44.07 28.25 43.72 26.70 43.40C25.15 43.08 23.82 42.53 22.70 42.10C21.58 41.67 20.45 41.02 20.00 40.80C19.62 41.12 18.58 42.23 17.70 42.70C16.82 43.17 15.77 43.60 14.70 43.60C13.63 43.60 12.30 43.30 11.30 42.70C10.30 42.10 9.28 41.12 8.70 40.00C8.12 38.88 7.80 37.33 7.80 36.00C7.80 34.67 8.12 33.10 8.70 32.00C9.28 30.90 10.30 30.00 11.30 29.40C12.30 28.80 13.55 28.42 14.70 28.40C15.85 28.38 17.62 29.15 18.20 29.30C18.33 28.85 18.48 27.48 19.00 26.60C19.52 25.72 20.35 24.65 21.30 24.00C22.25 23.35 23.58 22.87 24.70 22.70C25.82 22.53 26.95 22.62 28.00 23.00C29.05 23.38 30.17 24.22 31.00 25.00C31.83 25.78 32.55 26.80 33.00 27.70C33.45 28.60 33.58 29.95 33.70 30.40Z" fill="#fbfbfb"/><path d="M27.1 34.4C27.37 34.05 28.05 32.87 28.70 32.30C29.35 31.73 30.17 31.32 31.00 31.00C31.83 30.68 33.25 30.50 33.70 30.40" fill="none"/></g><g stroke="#4277c6" stroke-width="3.2" stroke-linecap="butt"><line x1="1006.03" y1="178.30" x2="1003.91" y2="190.00"/><line x1="1013.43" y1="177.30" x2="1010.91" y2="193.40"/><line x1="1019.73" y1="178.30" x2="1017.91" y2="190.40"/><line x1="1027.03" y1="178.00" x2="1024.91" y2="189.40"/></g>
<g transform="translate(1064.60 134.00)"><path d="M19.33 39.33C18.89 39.28 17.67 39.03 16.67 39.00C15.67 38.97 14.44 39.17 13.33 39.13C12.22 39.10 11.02 39.12 10.00 38.80C8.98 38.48 8.03 37.94 7.20 37.20C6.37 36.46 5.48 35.53 5.00 34.33C4.52 33.13 4.33 31.44 4.33 30.00C4.33 28.56 4.50 26.89 5.00 25.67C5.50 24.44 6.44 23.37 7.33 22.67C8.22 21.97 9.44 21.69 10.33 21.47C11.22 21.24 11.72 21.27 12.67 21.33C13.61 21.40 14.89 21.51 16.00 21.87C17.11 22.22 18.78 23.20 19.33 23.47C19.41 22.83 19.52 21.00 19.80 19.67C20.08 18.33 20.30 16.74 21.00 15.47C21.70 14.19 22.83 12.83 24.00 12.00C25.17 11.17 26.61 10.61 28.00 10.47C29.39 10.32 31.11 10.73 32.33 11.13C33.56 11.53 34.41 12.14 35.33 12.87C36.26 13.59 37.44 15.03 37.87 15.47C38.67 15.36 41.23 14.80 42.67 14.80C44.10 14.80 45.13 14.96 46.47 15.47C47.80 15.98 49.46 16.80 50.67 17.87C51.88 18.93 52.92 20.40 53.73 21.87C54.54 23.33 55.29 25.00 55.53 26.67C55.78 28.33 55.62 30.28 55.20 31.87C54.78 33.46 53.89 34.96 53.00 36.20C52.11 37.44 50.81 38.57 49.87 39.33C48.92 40.10 47.76 40.56 47.33 40.80L40 36L24 36Z" fill="#dcdcdc"/><path d="M19.33 39.33C18.89 39.28 17.67 39.03 16.67 39.00C15.67 38.97 14.44 39.17 13.33 39.13C12.22 39.10 11.02 39.12 10.00 38.80C8.98 38.48 8.03 37.94 7.20 37.20C6.37 36.46 5.48 35.53 5.00 34.33C4.52 33.13 4.33 31.44 4.33 30.00C4.33 28.56 4.50 26.89 5.00 25.67C5.50 24.44 6.44 23.37 7.33 22.67C8.22 21.97 9.44 21.69 10.33 21.47C11.22 21.24 11.72 21.27 12.67 21.33C13.61 21.40 14.89 21.51 16.00 21.87C17.11 22.22 18.78 23.20 19.33 23.47C19.41 22.83 19.52 21.00 19.80 19.67C20.08 18.33 20.30 16.74 21.00 15.47C21.70 14.19 22.83 12.83 24.00 12.00C25.17 11.17 26.61 10.61 28.00 10.47C29.39 10.32 31.11 10.73 32.33 11.13C33.56 11.53 34.41 12.14 35.33 12.87C36.26 13.59 37.44 15.03 37.87 15.47C38.67 15.36 41.23 14.80 42.67 14.80C44.10 14.80 45.13 14.96 46.47 15.47C47.80 15.98 49.46 16.80 50.67 17.87C51.88 18.93 52.92 20.40 53.73 21.87C54.54 23.33 55.29 25.00 55.53 26.67C55.78 28.33 55.62 30.28 55.20 31.87C54.78 33.46 53.89 34.96 53.00 36.20C52.11 37.44 50.81 38.57 49.87 39.33C48.92 40.10 47.76 40.56 47.33 40.80M37.9 15.5L40.4 18.3M19.3 23.5L22.6 25.6" fill="none" stroke="#1e54ac" stroke-width="2.15" stroke-linejoin="round" stroke-linecap="round"/></g><g transform="translate(1074.20 129.50) scale(1 1.045)" stroke="#1e54ac" stroke-width="2.25" stroke-linejoin="round" stroke-linecap="round"><path d="M33.7 30.4C34.12 30.53 35.28 30.63 36.20 31.20C37.12 31.77 38.52 32.78 39.20 33.80C39.88 34.82 40.28 36.15 40.30 37.30C40.32 38.45 39.90 39.75 39.30 40.70C38.70 41.65 37.92 42.45 36.70 43.00C35.48 43.55 33.67 43.93 32.00 44.00C30.33 44.07 28.25 43.72 26.70 43.40C25.15 43.08 23.82 42.53 22.70 42.10C21.58 41.67 20.45 41.02 20.00 40.80C19.62 41.12 18.58 42.23 17.70 42.70C16.82 43.17 15.77 43.60 14.70 43.60C13.63 43.60 12.30 43.30 11.30 42.70C10.30 42.10 9.28 41.12 8.70 40.00C8.12 38.88 7.80 37.33 7.80 36.00C7.80 34.67 8.12 33.10 8.70 32.00C9.28 30.90 10.30 30.00 11.30 29.40C12.30 28.80 13.55 28.42 14.70 28.40C15.85 28.38 17.62 29.15 18.20 29.30C18.33 28.85 18.48 27.48 19.00 26.60C19.52 25.72 20.35 24.65 21.30 24.00C22.25 23.35 23.58 22.87 24.70 22.70C25.82 22.53 26.95 22.62 28.00 23.00C29.05 23.38 30.17 24.22 31.00 25.00C31.83 25.78 32.55 26.80 33.00 27.70C33.45 28.60 33.58 29.95 33.70 30.40Z" fill="#fbfbfb"/><path d="M27.1 34.4C27.37 34.05 28.05 32.87 28.70 32.30C29.35 31.73 30.17 31.32 31.00 31.00C31.83 30.68 33.25 30.50 33.70 30.40" fill="none"/></g><g stroke="#4277c6" stroke-width="3.2" stroke-linecap="butt"><line x1="1084.90" y1="178.30" x2="1082.78" y2="190.00"/><line x1="1092.30" y1="177.30" x2="1089.78" y2="193.40"/><line x1="1098.60" y1="178.30" x2="1096.78" y2="190.40"/><line x1="1105.90" y1="178.00" x2="1103.78" y2="189.40"/></g>
<clipPath id="ct"><rect x="69.5" y="417.5" width="1025.0" height="197.0"/></clipPath>
<g clip-path="url(#ct)">
<polygon points="69.1,534.5 148.0,494.0 226.9,508.0 305.7,522.0 384.6,536.5 463.5,504.8 542.3,535.0 621.2,519.4 700.1,507.6 778.9,486.5 857.8,485.0 936.7,475.5 1015.5,465.4 1094.4,474.2 1094.4,579.1 1015.5,570.5 936.7,575.9 857.8,576.3 778.9,573.1 700.1,580.0 621.2,573.0 542.3,587.6 463.5,557.6 384.6,570.5 305.7,559.7 226.9,546.8 148.0,525.9 69.1,557.0" fill="rgb(100,149,237)" fill-opacity="0.5"/>
<polygon points="69.1,493.0 148.0,461.0 226.9,453.0 305.7,472.5 384.6,483.9 463.5,444.0 542.3,476.6 621.2,466.4 700.1,455.7 778.9,452.7 857.8,447.7 936.7,442.1 1015.5,426.8 1094.4,435.9 1094.4,540.8 1015.5,532.4 936.7,540.3 857.8,537.5 778.9,537.5 700.1,528.5 621.2,518.4 542.3,529.4 463.5,496.8 384.6,518.4 305.7,509.5 226.9,492.5 148.0,493.0 69.1,514.9" fill="rgb(50,205,50)" fill-opacity="0.4"/>
<line x1="69.5" x2="1094.5" y1="446.0" y2="446.0" stroke="#000" stroke-opacity="0.145" stroke-width="2"/>
<line x1="69.5" x2="1094.5" y1="510.0" y2="510.0" stroke="#000" stroke-opacity="0.145" stroke-width="2"/>
<line x1="69.5" x2="1094.5" y1="573.0" y2="573.0" stroke="#000" stroke-opacity="0.145" stroke-width="2"/>
<line x1="227" x2="227" y1="417.5" y2="614.5" stroke="#000" stroke-opacity="0.145" stroke-width="2"/>
<line x1="385" x2="385" y1="417.5" y2="614.5" stroke="#000" stroke-opacity="0.145" stroke-width="2"/>
<line x1="542" x2="542" y1="417.5" y2="614.5" stroke="#000" stroke-opacity="0.145" stroke-width="2"/>
<line x1="700" x2="700" y1="417.5" y2="614.5" stroke="#000" stroke-opacity="0.145" stroke-width="2"/>
<line x1="858" x2="858" y1="417.5" y2="614.5" stroke="#000" stroke-opacity="0.145" stroke-width="2"/>
<line x1="1016" x2="1016" y1="417.5" y2="614.5" stroke="#000" stroke-opacity="0.145" stroke-width="2"/>
<polyline points="69.1,503.0 148.0,476.4 226.9,472.9 305.7,491.4 384.6,500.9 463.5,469.9 542.3,502.6 621.2,492.1 700.1,492.1 778.9,494.0 857.8,492.5 936.7,491.1 1015.5,479.4 1094.4,488.6" fill="none" stroke="#ff0000" stroke-width="5.2" stroke-linejoin="round"/>
<polyline points="69.1,545.7 148.0,510.2 226.9,527.4 305.7,538.6 384.6,553.3 463.5,531.3 542.3,560.7 621.2,546.8 700.1,543.6 778.9,529.8 857.8,531.3 936.7,526.9 1015.5,517.7 1094.4,527.4" fill="none" stroke="#1e90ff" stroke-width="5.2" stroke-linejoin="round"/>
</g>
<g stroke="#2e2e2e" stroke-width="1"><line x1="69.5" x2="74.5" y1="611.5" y2="611.5"/><line x1="69.5" x2="74.5" y1="598.5" y2="598.5"/><line x1="69.5" x2="74.5" y1="586.5" y2="586.5"/><line x1="69.5" x2="74.5" y1="560.5" y2="560.5"/><line x1="69.5" x2="74.5" y1="548.5" y2="548.5"/><line x1="69.5" x2="74.5" y1="535.5" y2="535.5"/><line x1="69.5" x2="74.5" y1="522.5" y2="522.5"/><line x1="69.5" x2="74.5" y1="497.5" y2="497.5"/><line x1="69.5" x2="74.5" y1="484.5" y2="484.5"/><line x1="69.5" x2="74.5" y1="471.5" y2="471.5"/><line x1="69.5" x2="74.5" y1="459.5" y2="459.5"/><line x1="69.5" x2="74.5" y1="433.5" y2="433.5"/><line x1="69.5" x2="74.5" y1="420.5" y2="420.5"/></g>
<rect x="69.5" y="417.5" width="1025.0" height="197.0" fill="none" stroke="#2b2b2b" stroke-width="1"/>
<g font-family="'DejaVu Sans','Liberation Sans',sans-serif" font-size="19" fill="#000000">
<text x="40.42" y="453.9">15</text>
<text x="40.42" y="516.8">10</text>
<text x="53.51" y="580.8">5</text>
</g>
<clipPath id="cp"><rect x="69.5" y="700.5" width="1025.0" height="197.0"/></clipPath>
<g clip-path="url(#cp)">
<line x1="69.5" x2="1094.5" y1="730.0" y2="730.0" stroke="#000" stroke-opacity="0.145" stroke-width="2"/>
<line x1="69.5" x2="1094.5" y1="772.0" y2="772.0" stroke="#000" stroke-opacity="0.145" stroke-width="2"/>
<line x1="69.5" x2="1094.5" y1="813.0" y2="813.0" stroke="#000" stroke-opacity="0.145" stroke-width="2"/>
<line x1="69.5" x2="1094.5" y1="855.0" y2="855.0" stroke="#000" stroke-opacity="0.145" stroke-width="2"/>
<line x1="227" x2="227" y1="700.5" y2="897.5" stroke="#000" stroke-opacity="0.145" stroke-width="2"/>
<line x1="385" x2="385" y1="700.5" y2="897.5" stroke="#000" stroke-opacity="0.145" stroke-width="2"/>
<line x1="542" x2="542" y1="700.5" y2="897.5" stroke="#000" stroke-opacity="0.145" stroke-width="2"/>
<line x1="700" x2="700" y1="700.5" y2="897.5" stroke="#000" stroke-opacity="0.145" stroke-width="2"/>
<line x1="858" x2="858" y1="700.5" y2="897.5" stroke="#000" stroke-opacity="0.145" stroke-width="2"/>
<line x1="1016" x2="1016" y1="700.5" y2="897.5" stroke="#000" stroke-opacity="0.145" stroke-width="2"/>
<rect x="43" y="889.9" width="52" height="9.6" fill="#0050ff"/>
<rect x="122" y="831.1" width="52" height="68.4" fill="#0050ff"/>
<rect x="201" y="792.9" width="52" height="106.6" fill="#0050ff"/>
<rect x="279" y="845.0" width="53" height="54.5" fill="#0050ff"/>
<rect x="358" y="868.9" width="53" height="30.6" fill="#0050ff"/>
<rect x="437" y="800.2" width="53" height="99.3" fill="#0050ff"/>
<rect x="516" y="877.0" width="53" height="22.5" fill="#0050ff"/>
<rect x="595" y="865.0" width="52" height="34.5" fill="#0050ff"/>
<rect x="674" y="859.0" width="52" height="40.5" fill="#0050ff"/>
<rect x="753" y="855.1" width="52" height="44.4" fill="#0050ff"/>
<rect x="832" y="859.0" width="52" height="40.5" fill="#0050ff"/>
<rect x="910" y="854.1" width="53" height="45.4" fill="#0050ff"/>
<rect x="989" y="862.9" width="53" height="36.6" fill="#0050ff"/>
<rect x="1068" y="855.1" width="53" height="44.4" fill="#0050ff"/>
<g stroke="#808080" stroke-width="3"><line x1="69.5" x2="69.5" y1="879.5" y2="902.5"/><line x1="59.1" x2="79.9" y1="879.5" y2="879.5"/><line x1="148.5" x2="148.5" y1="779.4" y2="883.4"/><line x1="138.1" x2="158.9" y1="779.4" y2="779.4"/><line x1="138.1" x2="158.9" y1="883.4" y2="883.4"/><line x1="227.5" x2="227.5" y1="712.6" y2="875.4"/><line x1="217.1" x2="237.9" y1="712.6" y2="712.6"/><line x1="217.1" x2="237.9" y1="875.4" y2="875.4"/><line x1="306.5" x2="306.5" y1="804.6" y2="886.3"/><line x1="296.1" x2="316.9" y1="804.6" y2="804.6"/><line x1="296.1" x2="316.9" y1="886.3" y2="886.3"/><line x1="385.5" x2="385.5" y1="847.6" y2="890.5"/><line x1="375.1" x2="395.9" y1="847.6" y2="847.6"/><line x1="375.1" x2="395.9" y1="890.5" y2="890.5"/><line x1="463.5" x2="463.5" y1="726.5" y2="873.6"/><line x1="453.1" x2="473.9" y1="726.5" y2="726.5"/><line x1="453.1" x2="473.9" y1="873.6" y2="873.6"/><line x1="542.5" x2="542.5" y1="818.4" y2="902.5"/><line x1="532.1" x2="552.9" y1="818.4" y2="818.4"/><line x1="621.5" x2="621.5" y1="826.5" y2="902.5"/><line x1="611.1" x2="631.9" y1="826.5" y2="826.5"/><line x1="700.5" x2="700.5" y1="810.6" y2="902.5"/><line x1="690.1" x2="710.9" y1="810.6" y2="810.6"/><line x1="779.5" x2="779.5" y1="793.6" y2="902.5"/><line x1="769.1" x2="789.9" y1="793.6" y2="793.6"/><line x1="858.5" x2="858.5" y1="809.5" y2="902.5"/><line x1="848.1" x2="868.9" y1="809.5" y2="809.5"/><line x1="937.5" x2="937.5" y1="791.3" y2="902.5"/><line x1="927.1" x2="947.9" y1="791.3" y2="791.3"/><line x1="1016.5" x2="1016.5" y1="809.5" y2="902.5"/><line x1="1006.1" x2="1026.9" y1="809.5" y2="809.5"/><line x1="1094.5" x2="1094.5" y1="785.6" y2="902.5"/><line x1="1084.1" x2="1104.9" y1="785.6" y2="785.6"/></g>
</g>
<rect x="69.5" y="700.5" width="1025.0" height="197.0" fill="none" stroke="#2b2b2b" stroke-width="1"/>
<g font-family="'DejaVu Sans','Liberation Sans',sans-serif" text-anchor="middle" font-size="19.7" fill="#000000">
<text x="69.1" y="692.7">pet</text>
<text x="148.0" y="692.7">sob</text>
<text x="226.9" y="692.7">ned</text>
<text x="305.7" y="692.7">pon</text>
<text x="384.6" y="692.7">tor</text>
<text x="463.5" y="692.7">sre</text>
<text x="542.3" y="692.7">čet</text>
<text x="621.2" y="692.7">pet</text>
<text x="700.1" y="692.7">sob</text>
<text x="778.9" y="692.7">ned</text>
<text x="857.8" y="692.7">pon</text>
<text x="936.7" y="692.7">tor</text>
<text x="1015.5" y="692.7">sre</text>
<text x="1094.4" y="692.7">čet</text>
</g>
<g font-family="'DejaVu Sans','Liberation Sans',sans-serif" text-anchor="middle" font-size="24.2" fill="#1462bd">
<text x="69.1" y="926.5">65%</text>
<text x="148.0" y="926.5">80%</text>
<text x="226.9" y="926.5">75%</text>
<text x="305.7" y="926.5">60%</text>
<text x="384.6" y="926.5">65%</text>
<text x="463.5" y="926.5">85%</text>
<text x="542.3" y="926.5">65%</text>
<text x="621.2" y="926.5">65%</text>
<text x="700.1" y="926.5">70%</text>
<text x="778.9" y="926.5">70%</text>
<text x="857.8" y="926.5">65%</text>
<text x="936.7" y="926.5">65%</text>
<text x="1015.5" y="926.5">70%</text>
<text x="1094.4" y="926.5">70%</text>
</g>
<g font-family="'DejaVu Sans','Liberation Sans',sans-serif" font-size="19" fill="#000000">
<text x="41.42" y="725.6">40</text>
<text x="41.42" y="778.65">30</text>
<text x="41.42" y="820.9">20</text>
<text x="41.42" y="862.4">10</text>
<text x="53.51" y="892.7">0</text>
</g></svg>
<div class="t" style="left:10px;top:8.66px;font-size:16px;color:#0000ff;">(kraj lahko izberete v meniju)</div>
<div class="t" style="left:399px;top:17.23px;font-size:27.25px;color:#0000ff;">Cres 14 dni</div>
<div class="t" style="right:9.5px;top:8.66px;font-size:16px;color:#0000ff;">Zadnja posodobitev: 23.01.2026 - 00:25</div>
<div class="t" style="left:80px;width:1000px;text-align:center;top:388.15px;font-size:23.8px;color:#000;">Temperatura (°C)</div>
<div class="t" style="left:78.5px;width:1000px;text-align:center;top:648.15px;font-size:23.8px;color:#000;">Količina padavin (mm) / Možnost padavin (%)</div>
<div class="t" style="left:749.8px;top:468.05px;font-size:19.2px;color:#0000ff;">© vreme.us &amp; vreme.pro</div>
</body></html>
